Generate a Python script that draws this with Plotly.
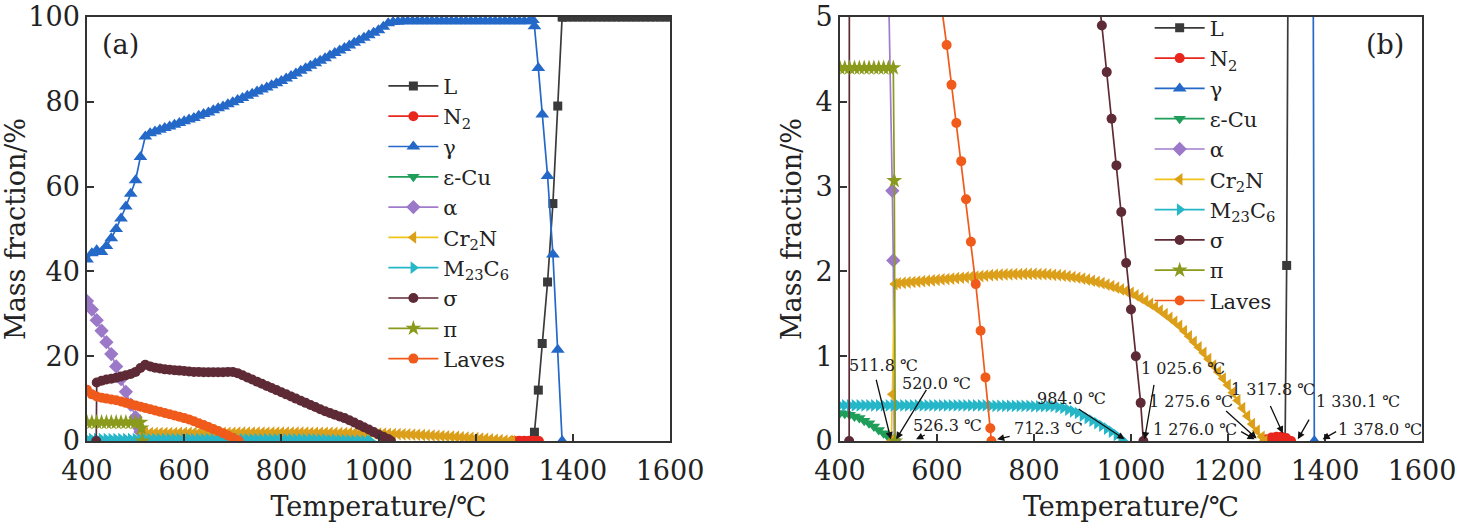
import plotly.graph_objects as go

# ---------------- data ----------------
T_GRID = [
    400, 410, 420, 430, 440, 450, 460, 470, 480, 490,
    500, 510, 520, 530, 540, 550, 560, 570, 580, 590,
    600, 610, 620, 630, 640, 650, 660, 670, 680, 690,
    700, 710, 720, 730, 740, 750, 760, 770, 780, 790,
    800, 810, 820, 830, 840, 850, 860, 870, 880, 890,
    900, 910, 920, 930, 940, 950, 960, 970, 980, 990,
    1000, 1010, 1020, 1030, 1040, 1050, 1060, 1070, 1080, 1090,
    1100, 1110, 1120, 1130, 1140, 1150, 1160, 1170, 1180, 1190,
    1200, 1210, 1220, 1230, 1240, 1250, 1260, 1270, 1280, 1290,
    1300, 1310, 1320, 1330, 1340, 1350, 1360, 1370, 1380, 1390,
    1400, 1410, 1420, 1430, 1440, 1450, 1460, 1470, 1480, 1490,
    1500, 1510, 1520, 1530, 1540, 1550, 1560, 1570, 1580, 1590,
    1600,
]

PHASES = ["L", "N<sub>2</sub>", "γ", "ε-Cu", "α", "Cr<sub>2</sub>N",
          "M<sub>23</sub>C<sub>6</sub>", "σ", "π", "Laves"]

# L (liquid)
L_LEAD_T = [1317.8, 1321, 1329, 1337, 1348, 1359, 1369, 1378]
L_LEAD = [0, 2.07, 12, 23, 37.5, 56, 79, 100]
L_FROM = 1380
L_GRID = [100, 100, 100, 100, 100, 100, 100, 100, 100, 100,
          100, 100, 100, 100, 100, 100, 100, 100, 100, 100,
          100, 100, 100]

# N2
N2_T = [1276, 1280, 1290, 1300, 1310, 1320, 1330.1]
N2_VALS = [0, 0.02, 0.04, 0.05, 0.05, 0.035, 0]

# gamma
GAMMA_FROM = 400
GAMMA_GRID = [
    42.8, 44.3, 45.0, 44.6, 46.0, 47.8, 50.0, 52.5, 55.3, 58.3,
    61.5, 67.0, 71.8, 72.6,
    73.0, 73.4, 73.8, 74.2, 74.6, 75.0, 75.4, 75.8, 76.2, 76.7,
    77.1, 77.5, 78.0, 78.5, 78.9, 79.4, 79.9,
    80.4, 80.9, 81.4, 81.9, 82.4, 82.9, 83.4, 83.9, 84.4, 84.9,
    85.5, 86.1, 86.7, 87.3, 87.9, 88.5, 89.1, 89.7, 90.3, 90.9,
    91.5, 92.1, 92.7, 93.3, 93.9, 94.5, 95.1, 95.7, 96.3, 96.9,
    97.7, 98.5,
    98.8, 98.9, 99.0, 99.0, 99.0, 99.0, 99.0, 99.0, 99.0, 99.0,
    99.0, 99.0, 99.0, 99.0, 99.0, 99.0, 99.0, 99.0, 99.0, 99.0,
    99.0, 99.0, 99.0, 99.0, 99.0, 99.0, 99.0, 99.0, 99.0,
]
GAMMA_TAIL_T = [1317.8, 1321, 1329, 1337, 1348, 1359, 1369, 1378]
GAMMA_TAIL = [99.3, 97.8, 88, 77, 62.5, 44, 21.5, 0]

# epsilon-Cu
ECU_FROM = 400
ECU_GRID = [0.33, 0.32, 0.31, 0.29, 0.27, 0.24, 0.21, 0.17, 0.13, 0.09, 0.045, 0.01]
ECU_TAIL_T = [511.8]
ECU_TAIL = [0]

# alpha
ALPHA_FROM = 400
ALPHA_GRID = [33, 31, 28.5, 26, 23.3, 20.5, 17.6, 14.6, 11.6, 8.6, 5.6]
ALPHA_TAIL_T = [508, 510, 512]
ALPHA_TAIL = [2.95, 2.13, 0]

# Cr2N
CR2N_LEAD_T = [506, 508, 513]
CR2N_LEAD = [0, 0.55, 1.85]
CR2N_FROM = 520
CR2N_GRID = [
    1.86, 1.865, 1.87, 1.875, 1.88, 1.885, 1.89, 1.895, 1.90, 1.905,
    1.91, 1.915, 1.92, 1.925, 1.93, 1.935, 1.94, 1.945, 1.95, 1.955,
    1.958, 1.961, 1.964, 1.966, 1.968, 1.969, 1.97, 1.97, 1.97, 1.969,
    1.967, 1.964, 1.96, 1.955, 1.949, 1.942, 1.934, 1.925, 1.915, 1.903,
    1.89, 1.876, 1.861, 1.845, 1.827, 1.808, 1.788, 1.768, 1.748, 1.718,
    1.686, 1.652, 1.617, 1.58, 1.539, 1.496, 1.452, 1.406, 1.358, 1.297,
    1.234, 1.17, 1.105, 1.04, 0.966, 0.89, 0.814, 0.737, 0.66, 0.57,
    0.479, 0.388, 0.295, 0.2, 0.122, 0.05,
]
CR2N_TAIL_T = [1275.6]
CR2N_TAIL = [0]

# M23C6
M23_FROM = 400
M23_GRID = [
    0.42, 0.42, 0.42, 0.42, 0.42, 0.42, 0.42, 0.42, 0.42, 0.42,
    0.42, 0.42, 0.42, 0.42, 0.42, 0.42, 0.42, 0.42, 0.42, 0.42,
    0.42, 0.42, 0.42, 0.42, 0.42, 0.42, 0.42, 0.42, 0.42, 0.42,
    0.42,
    0.415, 0.415, 0.415, 0.415, 0.415, 0.415, 0.415, 0.415, 0.415,
    0.41, 0.41, 0.41, 0.41, 0.41,
    0.40, 0.39, 0.37, 0.35, 0.33, 0.30, 0.27, 0.24, 0.21, 0.18,
    0.145, 0.11, 0.07, 0.025,
]
M23_TAIL_T = [984]
M23_TAIL = [0]

# sigma
SIGMA_LEAD_T = [419]
SIGMA_LEAD = [0]
SIGMA_FROM = 420
SIGMA_GRID = [
    13.8, 14.2, 14.5, 14.7, 14.9, 15.2, 15.5, 15.8, 16.3, 17.2,
    18.0, 17.6, 17.3, 17.1, 16.9, 16.8, 16.7, 16.6, 16.5, 16.4,
    16.3, 16.3, 16.2, 16.2, 16.2, 16.2, 16.2, 16.3, 16.3,
    16.0, 15.5, 15.0, 14.5, 14.0, 13.5, 13.0, 12.5, 12.0, 11.5,
    11.0, 10.5, 10.0, 9.5, 9.0, 8.5, 8.0, 7.5, 7.0, 6.6,
    6.2, 5.8, 5.4, 4.9, 4.35, 3.8, 3.25, 2.7, 2.1, 1.55,
    1.0, 0.45,
]
SIGMA_TAIL_T = [1025.6]
SIGMA_TAIL = [0]

# pi
PI_FROM = 400
PI_GRID = [4.4, 4.4, 4.4, 4.4, 4.4, 4.4, 4.4, 4.4, 4.4, 4.4, 4.4, 4.4]
PI_TAIL_T = [512, 514]
PI_TAIL = [3.07, 0]

# Laves
LAVES_FROM = 400
LAVES_GRID = [
    12.1, 11.0, 10.5, 10.2, 10.0, 9.8, 9.6, 9.3, 9.0, 8.7,
    8.4, 8.1, 7.8, 7.5, 7.2, 6.9, 6.6, 6.3, 6.0, 5.7,
    5.4, 5.1, 4.67, 4.2, 3.75, 3.3, 2.85, 2.35, 1.85, 1.3,
    0.75, 0.15,
]
LAVES_TAIL_T = [712.3]
LAVES_TAIL = [0]

X_TICKS = [400, 600, 800, 1000, 1200, 1400, 1600]
Y_TICKS_A = [0, 20, 40, 60, 80, 100]
Y_TICKS_B = [0, 1, 2, 3, 4, 5]

ANNOT_TEXT = ["511.8 ℃", "520.0 ℃", "526.3 ℃", "712.3 ℃", "984.0 ℃",
              "1 025.6 ℃", "1 275.6 ℃", "1 276.0 ℃", "1 317.8 ℃",
              "1 330.1 ℃", "1 378.0 ℃"]

# ---------------- styling / positions ----------------
ANNOT_TEXT_POS = [(489, 0.89), (600, 0.68), (621, 0.18), (830, 0.15), (877, 0.50),
                  (1108, 0.85), (1123, 0.47), (1131, 0.14), (1292, 0.61),
                  (1468, 0.47), (1513, 0.14)]
ANNOT_ARROW_TAIL = [(474, 0.74), (580, 0.62), (578, 0.08), (753, 0.06), (889, 0.39),
                    (1048, 0.68), (1193, 0.37), (1224, 0.12), (1286, 0.43),
                    (1369, 0.27), (1426, 0.12)]
ANNOT_ARROW_HEAD = [(505, 0.02), (516, 0.02), (557, 0.02), (724, 0.02), (987, 0.02),
                    (1028, 0.02), (1259, 0.03), (1255, 0.02), (1313, 0.09),
                    (1344, 0.02), (1395, 0.02)]

LINE_COLORS = ["#3a3a3a", "#e8261e", "#2468c8", "#1f9e5a", "#a07ccc",
               "#f0c419", "#25b6c8", "#5e2a35", "#8a9a1c", "#f05a1a"]
MARKER_COLORS = ["#3a3a3a", "#e8261e", "#2468c8", "#1f9e5a", "#9b78c8",
                 "#dc9f1a", "#25b6c8", "#5e2a35", "#8a9a1c", "#f05a1a"]
SYMBOLS = ["square", "circle", "triangle-up", "triangle-down", "diamond",
           "triangle-left", "triangle-right", "circle", "star", "circle"]
SIZES = [9, 10, 12, 11, 11, 11, 11, 10, 12, 10]

SERIF = "DejaVu Serif, Liberation Serif, serif"


def build(lead_t, lead_v, start, grid_v, tail_t, tail_v):
    gx = []
    if grid_v:
        i = T_GRID.index(start)
        gx = T_GRID[i:i + len(grid_v)]
        assert len(gx) == len(grid_v)
    return list(lead_t) + gx + list(tail_t), list(lead_v) + list(grid_v) + list(tail_v)


SERIES = [
    build(L_LEAD_T, L_LEAD, L_FROM, L_GRID, [], []),
    build(N2_T, N2_VALS, None, [], [], []),
    build([], [], GAMMA_FROM, GAMMA_GRID, GAMMA_TAIL_T, GAMMA_TAIL),
    build([], [], ECU_FROM, ECU_GRID, ECU_TAIL_T, ECU_TAIL),
    build([], [], ALPHA_FROM, ALPHA_GRID, ALPHA_TAIL_T, ALPHA_TAIL),
    build(CR2N_LEAD_T, CR2N_LEAD, CR2N_FROM, CR2N_GRID, CR2N_TAIL_T, CR2N_TAIL),
    build([], [], M23_FROM, M23_GRID, M23_TAIL_T, M23_TAIL),
    build(SIGMA_LEAD_T, SIGMA_LEAD, SIGMA_FROM, SIGMA_GRID, SIGMA_TAIL_T, SIGMA_TAIL),
    build([], [], PI_FROM, PI_GRID, PI_TAIL_T, PI_TAIL),
    build([], [], LAVES_FROM, LAVES_GRID, LAVES_TAIL_T, LAVES_TAIL),
]

fig = go.Figure()
for panel, (xa, ya, lg) in enumerate([("x", "y", "legend"), ("x2", "y2", "legend2")]):
    for k, name in enumerate(PHASES):
        x, y = SERIES[k]
        fig.add_trace(go.Scatter(
            x=x, y=y, mode="lines+markers", name=name,
            xaxis=xa, yaxis=ya, legend=lg,
            line=dict(color=LINE_COLORS[k], width=1.7),
            marker=dict(symbol=SYMBOLS[k], size=SIZES[k], color=MARKER_COLORS[k],
                        line=dict(width=0)),
        ))

axis_common = dict(
    ticks="inside", ticklen=7, tickwidth=1.5, tickcolor="#333",
    showline=True, linecolor="#333", linewidth=1.5, mirror=True,
    showgrid=False, zeroline=False, automargin=False,
    ticklabeloverflow="allow",
    tickfont=dict(family=SERIF, size=27, color="#222"),
)
x_common = dict(axis_common, ticklabelstandoff=5)

legend_common = dict(xanchor="left", yanchor="top", bgcolor="rgba(0,0,0,0)",
                     font=dict(family=SERIF, size=21, color="#222"),
                     itemwidth=50, traceorder="normal", maxheight=480)

fig.update_layout(
    width=1459, height=526,
    margin=dict(l=87, r=37, t=17, b=85, autoexpand=False),
    paper_bgcolor="white", plot_bgcolor="white",
    font=dict(family=SERIF, color="#222"),
    xaxis=dict(domain=[0, 0.4367], range=[400, 1600], tickvals=X_TICKS, anchor="y",
               title=dict(text="Temperature/℃", font=dict(size=27), standoff=12),
               **x_common),
    yaxis=dict(domain=[0, 1], range=[0, 100], tickvals=Y_TICKS_A, anchor="x",
               title=dict(text="Mass fraction/%", font=dict(size=27), standoff=2),
               **axis_common),
    xaxis2=dict(domain=[0.564, 1], range=[400, 1600], tickvals=X_TICKS, anchor="y2",
                title=dict(text="Temperature/℃", font=dict(size=27), standoff=12),
                **x_common),
    yaxis2=dict(domain=[0, 1], range=[0, 5], tickvals=Y_TICKS_B, anchor="x2",
                title=dict(text="Mass fraction/%", font=dict(size=27), standoff=6),
                **axis_common),
    legend=dict(x=0.222, y=0.885, **legend_common),
    legend2=dict(x=0.796, y=1.022, **legend_common),
    showlegend=True,
)

annotations = [
    dict(text="(a)", xref="x domain", yref="y domain", x=0.058, y=0.935,
         xanchor="center", yanchor="middle",
         showarrow=False, font=dict(family=SERIF, size=27, color="#222")),
    dict(text="(b)", xref="x2 domain", yref="y2 domain", x=0.936, y=0.935,
         xanchor="center", yanchor="middle",
         showarrow=False, font=dict(family=SERIF, size=27, color="#222")),
]
for txt, (tx, ty), (ax_, ay_), (hx, hy) in zip(ANNOT_TEXT, ANNOT_TEXT_POS,
                                               ANNOT_ARROW_TAIL, ANNOT_ARROW_HEAD):
    annotations.append(dict(text=txt, xref="x2", yref="y2", x=tx, y=ty, showarrow=False,
                            xanchor="center", yanchor="middle",
                            font=dict(family=SERIF, size=16, color="#222")))
    annotations.append(dict(text="", xref="x2", yref="y2", x=hx, y=hy,
                            axref="x2", ayref="y2", ax=ax_, ay=ay_, showarrow=True,
                            arrowhead=2, arrowsize=1.1, arrowwidth=1.3,
                            arrowcolor="#111", standoff=0, startstandoff=0))
fig.update_layout(annotations=annotations)

fig.write_html("out.html",
               config={"displayModeBar": False},
               post_script="document.body.style.margin='0';"
                           "document.body.style.overflow='hidden';")
